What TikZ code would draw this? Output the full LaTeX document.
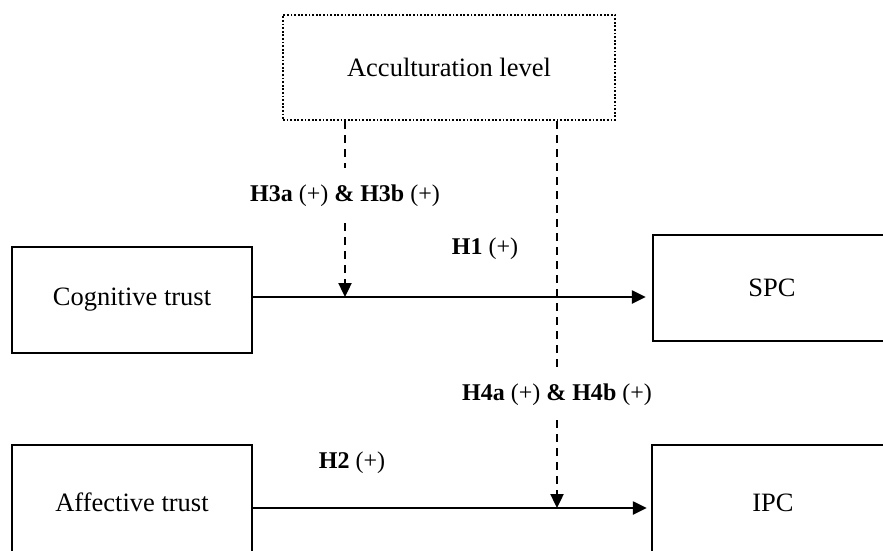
\documentclass[tikz,border=0pt]{standalone}
\usepackage{fontspec}
\setmainfont{Liberation Serif}
\usetikzlibrary{arrows.meta}
\begin{document}
\begin{tikzpicture}[x=0.5pt,y=-0.5pt,
  box/.style={draw,line width=1.2pt,inner sep=0pt,font=\fontsize{13.25}{15}\selectfont},
  lab/.style={inner sep=0pt,font=\fontsize{12}{14}\selectfont},
  tip/.style={-{Triangle[length=7pt,width=6.5pt]}},
  flow/.style={line width=1.2pt,tip},
  mod/.style={line width=1.2pt,dash pattern=on 4pt off 3pt},
]
\clip (0,0) rectangle (883,551);
\node[box,line width=1.1pt,dash pattern=on 0.9pt off 0.9pt,minimum width=166pt,minimum height=52.5pt] (acc) at (449,67.5) {Acculturation level};
\node[box,minimum width=120pt,minimum height=53pt] (cog) at (132,300) {Cognitive trust};
\node[box,minimum width=119pt,minimum height=53pt] (spc) at (772,288) {SPC};
\node[box,minimum width=120pt,minimum height=57pt] (aff) at (132,502) {Affective trust};
\node[box,minimum width=121pt,minimum height=58pt] (ipc) at (773,503) {IPC};

\node[lab,minimum height=27.5pt] (l3) at (345,195.5) {\textbf{H3a} (+) \textbf{\& H3b} (+)};
\node[lab] (l1) at (485,249) {\textbf{H1} (+)};
\node[lab,minimum height=25pt] (l4) at (557,395) {\textbf{H4a} (+) \textbf{\& H4b} (+)};
\node[lab] (l2) at (352,463) {\textbf{H2} (+)};

\coordinate (m1) at (345,297);
\coordinate (m2) at (557,508);

\draw[flow,shorten >=3pt] (m1 -| cog.east) -- (m1 -| spc.west);
\draw[flow,shorten >=2pt] (m2 -| aff.east) -- (m2 -| ipc.west);
\draw[mod] (acc.south -| m1) -- (l3.north);
\draw[mod,tip] (l3.south) -- (m1);
\draw[mod] (acc.south -| m2) -- (l4.north);
\draw[mod,tip] (l4.south) -- (m2);
\end{tikzpicture}
\end{document}
